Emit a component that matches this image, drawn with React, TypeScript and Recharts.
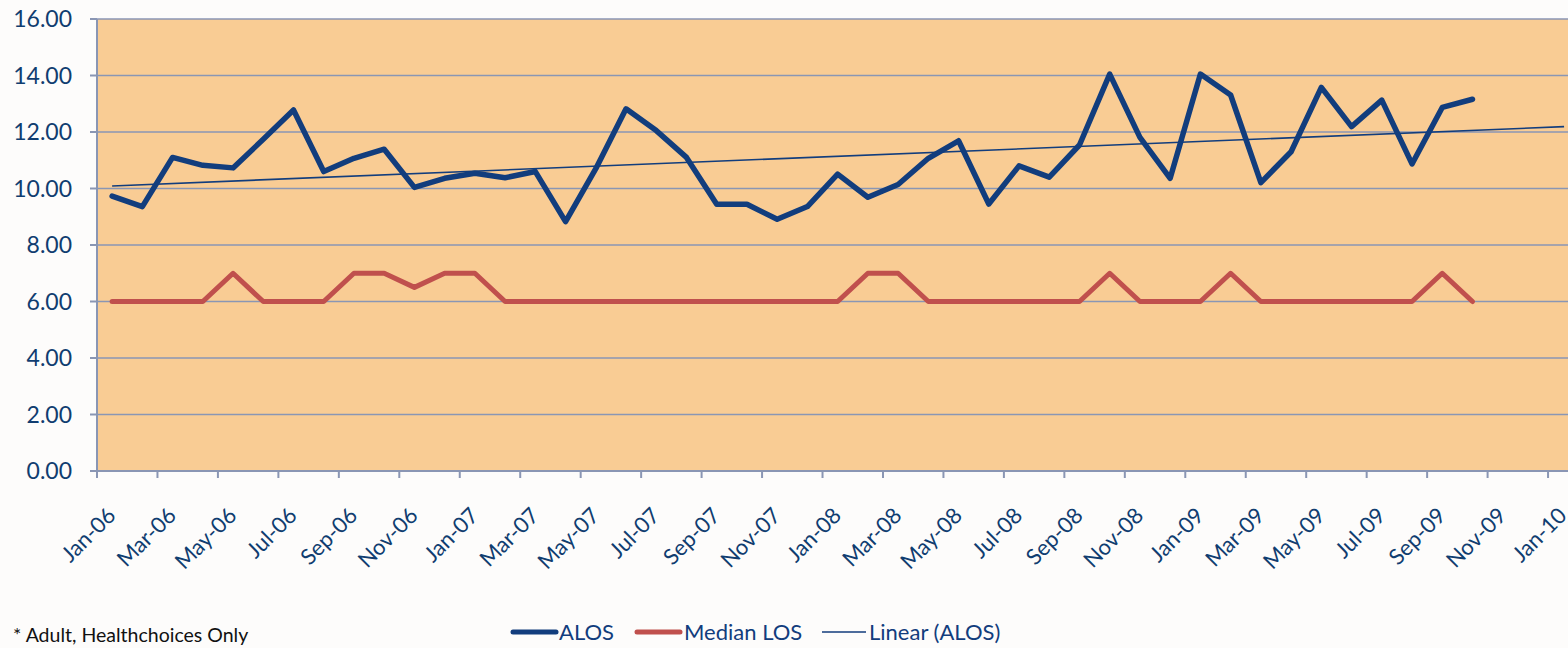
import React from "react";
import { LineChart, Line, XAxis, YAxis, CartesianGrid } from "recharts";

const months = [
  "Jan-06","Feb-06","Mar-06","Apr-06","May-06","Jun-06","Jul-06","Aug-06","Sep-06","Oct-06","Nov-06","Dec-06",
  "Jan-07","Feb-07","Mar-07","Apr-07","May-07","Jun-07","Jul-07","Aug-07","Sep-07","Oct-07","Nov-07","Dec-07",
  "Jan-08","Feb-08","Mar-08","Apr-08","May-08","Jun-08","Jul-08","Aug-08","Sep-08","Oct-08","Nov-08","Dec-08",
  "Jan-09","Feb-09","Mar-09","Apr-09","May-09","Jun-09","Jul-09","Aug-09","Sep-09","Oct-09",
];

const alos = [
  9.73, 9.36, 11.10, 10.82, 10.73, 11.74, 12.78, 10.60, 11.07, 11.39, 10.04, 10.36,
  10.54, 10.38, 10.60, 8.83, 10.70, 12.82, 12.05, 11.10, 9.44, 9.44, 8.91, 9.36,
  10.51, 9.69, 10.14, 11.07, 11.69, 9.45, 10.80, 10.40, 11.54, 14.05, 11.81, 10.36,
  14.05, 13.31, 10.21, 11.30, 13.58, 12.19, 13.13, 10.87, 12.87, 13.16,
];

const medianLos = [
  6, 6, 6, 6, 7, 6, 6, 6, 7, 7, 6.5, 7,
  7, 6, 6, 6, 6, 6, 6, 6, 6, 6, 6, 6,
  6, 7, 7, 6, 6, 6, 6, 6, 6, 7, 6, 6,
  6, 7, 6, 6, 6, 6, 6, 6, 7, 6,
];

// Linear (ALOS) trendline end points
const trendStart = 10.09;
const trendEnd = 12.19;
const trendEndMonth = 48.53;

const tickLabels = [
  "Jan-06","Mar-06","May-06","Jul-06","Sep-06","Nov-06",
  "Jan-07","Mar-07","May-07","Jul-07","Sep-07","Nov-07",
  "Jan-08","Mar-08","May-08","Jul-08","Sep-08","Nov-08",
  "Jan-09","Mar-09","May-09","Jul-09","Sep-09","Nov-09","Jan-10",
];

const yTicks = [0, 2, 4, 6, 8, 10, 12, 14, 16];

const alosData = months.map((m, i) => ({ x: i + 0.5, month: m, v: alos[i] }));
const medianData = months.map((m, i) => ({ x: i + 0.5, month: m, v: medianLos[i] }));
const trendData = [
  { x: 0.5, v: trendStart },
  { x: trendEndMonth, v: trendEnd },
];
const xTicks = tickLabels.map((_, i) => i * 2);

const NAVY = "#123d7d";
const RED = "#c0504d";
const GRID = "#8a96b4";
const TEXT = "#103d70";
const FONT = "Lato, 'Open Sans', sans-serif";

const XTick = (props: any) => {
  const { x, y, payload } = props;
  const label = tickLabels[Math.round(payload.value / 2)];
  const ax = x + 20;
  const ay = y + 39;
  return (
    <text
      x={ax}
      y={ay}
      transform={`rotate(-45, ${ax}, ${ay})`}
      textAnchor="end"
      fontSize={22}
      fontFamily={FONT}
      fill={TEXT}
    >
      {label}
    </text>
  );
};

export default function App() {
  return (
    <div
      style={{
        position: "absolute",
        left: 0,
        top: 0,
        width: 1568,
        height: 648,
        background: "#fdfcfb",
        overflow: "hidden",
      }}
    >
      <LineChart
        width={1568}
        height={648}
        margin={{ top: 19, right: 0, left: 0, bottom: 77 }}
      >
        <CartesianGrid
          vertical={false}
          horizontal={true}
          fill="#f9cc94"
          stroke={GRID}
          strokeWidth={1.5}
          fillOpacity={1}
        />
        <XAxis
          dataKey="x"
          type="number"
          domain={[0, 48.66]}
          ticks={xTicks}
          interval={0}
          height={100}
          tickSize={7}
          tickMargin={0}
          axisLine={{ stroke: GRID, strokeWidth: 2 }}
          tickLine={{ stroke: GRID, strokeWidth: 2 }}
          tick={<XTick />}
          allowDataOverflow
        />
        <YAxis
          type="number"
          domain={[0, 16]}
          ticks={yTicks}
          interval={0}
          width={97}
          tickSize={7}
          tickMargin={18}
          tickFormatter={(v: number) => v.toFixed(2)}
          axisLine={{ stroke: GRID, strokeWidth: 2 }}
          tickLine={{ stroke: GRID, strokeWidth: 2 }}
          tick={{ fill: TEXT, fontSize: 23, fontFamily: FONT }}
        />
        <Line
          data={trendData}
          dataKey="v"
          type="linear"
          stroke={NAVY}
          strokeWidth={1.6}
          dot={false}
          isAnimationActive={false}
          name="Linear (ALOS)"
        />
        <Line
          data={medianData}
          dataKey="v"
          type="linear"
          stroke={RED}
          strokeWidth={5}
          strokeLinejoin="round"
          strokeLinecap="round"
          dot={false}
          isAnimationActive={false}
          name="Median LOS"
        />
        <Line
          data={alosData}
          dataKey="v"
          type="linear"
          stroke={NAVY}
          strokeWidth={5.5}
          strokeLinejoin="round"
          strokeLinecap="round"
          dot={false}
          isAnimationActive={false}
          name="ALOS"
        />
      </LineChart>
      <svg
        width={1568}
        height={648}
        style={{ position: "absolute", left: 0, top: 0, pointerEvents: "none" }}
      >
        <text x={13} y={642} fontSize={19.5} fontFamily={FONT} fill="#111">
          * Adult, Healthchoices Only
        </text>
        <line x1={513} y1={632} x2={556} y2={632} stroke={NAVY} strokeWidth={5} strokeLinecap="round" />
        <text x={559} y={640} fontSize={22} fontFamily={FONT} fill={NAVY}>ALOS</text>
        <line x1={637} y1={632} x2={680} y2={632} stroke={RED} strokeWidth={5} strokeLinecap="round" />
        <text x={684} y={640} fontSize={22} fontFamily={FONT} fill={NAVY}>Median LOS</text>
        <line x1={822} y1={632} x2={866} y2={632} stroke={NAVY} strokeWidth={1.6} />
        <text x={869} y={640} fontSize={22} fontFamily={FONT} fill={NAVY}>Linear (ALOS)</text>
      </svg>
    </div>
  );
}
